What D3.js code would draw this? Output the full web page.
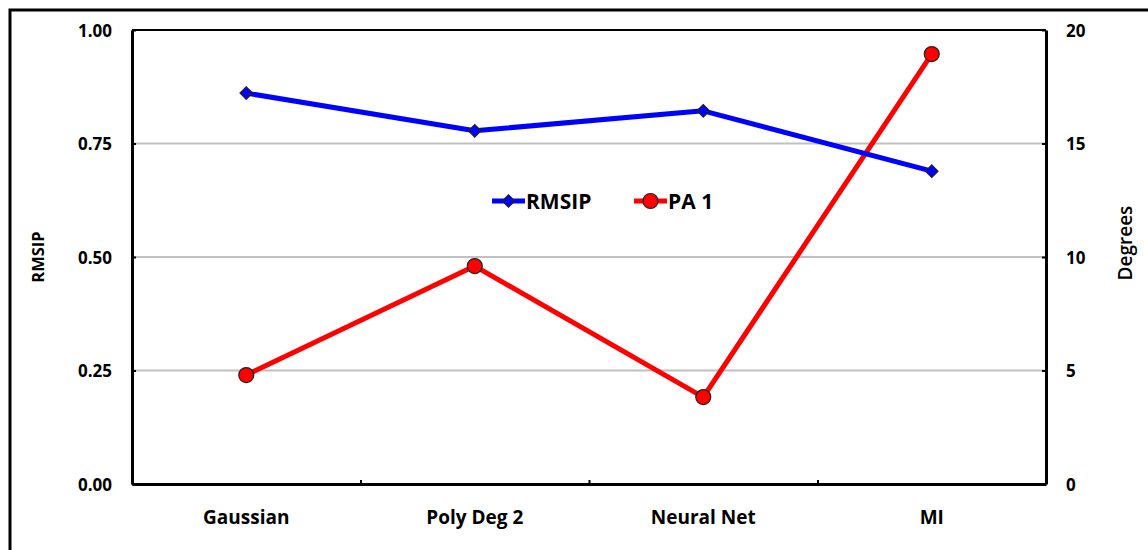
<!DOCTYPE html>
<html>
<head>
<meta charset="utf-8">
<script src="https://cdn.jsdelivr.net/npm/d3@7/dist/d3.min.js"></script>
<style>
  html, body { margin: 0; padding: 0; background: #fff; }
  svg { display: block; font-family: "Open Sans", Lato, "DejaVu Sans", sans-serif; }
</style>
</head>
<body>
<svg id="chart" width="1148" height="550"></svg>
<script>
// Methods compared
const categories = ["Gaussian", "Poly Deg 2", "Neural Net", "MI"];
// RMSIP (left axis)
const rmsip = [0.861, 0.778, 0.822, 0.689];
// Angle of principal axis 1, in degrees (right axis)
const pa1 = [4.80, 9.60, 3.83, 18.94];
// Tick values
const leftTicks = [0, 0.25, 0.5, 0.75, 1.0];
const rightTicks = [0, 5, 10, 15, 20];

const svg = d3.select("#chart");
const plot = { left: 132, right: 1046, top: 30, bottom: 484 };

// Outer frame
svg.append("rect")
  .attr("x", 10).attr("y", 10)
  .attr("width", 1150).attr("height", 560)
  .attr("fill", "none").attr("stroke", "#000").attr("stroke-width", 3);

const x = d3.scaleBand().domain(categories).range([plot.left, plot.right]).padding(0);
const yL = d3.scaleLinear().domain([0, 1]).range([plot.bottom, plot.top]);
const yR = d3.scaleLinear().domain([0, 20]).range([plot.bottom, plot.top]);

// Gridlines
svg.append("g").selectAll("line")
  .data(leftTicks.filter(d => d > 0 && d < 1))
  .join("line")
  .attr("x1", plot.left).attr("x2", plot.right)
  .attr("y1", d => yL(d)).attr("y2", d => yL(d))
  .attr("stroke", "#c0c0c0").attr("stroke-width", 2);

// Top border of plot area
svg.append("line")
  .attr("x1", plot.left).attr("x2", plot.right)
  .attr("y1", plot.top).attr("y2", plot.top)
  .attr("stroke", "#000").attr("stroke-width", 2);

// Left axis
const axL = svg.append("g").attr("transform", `translate(${plot.left},0)`)
  .call(d3.axisLeft(yL).tickValues(leftTicks).tickFormat(d3.format(".2f")).tickSizeInner(-4).tickSizeOuter(0).tickPadding(20));
// Right axis
const axR = svg.append("g").attr("transform", `translate(${plot.right},0)`)
  .call(d3.axisRight(yR).tickValues(rightTicks).tickFormat(d3.format("d")).tickSizeInner(-4).tickSizeOuter(0).tickPadding(20));
// Bottom axis: ticks sit on category boundaries
const bounds = categories.slice(1).map(c => x(c));
const axB = svg.append("g").attr("transform", `translate(0,${plot.bottom})`)
  .call(d3.axisBottom(d3.scaleLinear().domain([plot.left, plot.right]).range([plot.left, plot.right]))
    .tickValues(bounds).tickFormat("").tickSizeInner(-4).tickSizeOuter(0));

[axL, axR, axB].forEach(g => {
  g.select(".domain").attr("stroke", "#000").attr("stroke-width", 3);
  g.selectAll(".tick line").attr("stroke", "#000").attr("stroke-width", 2);
  g.selectAll(".tick text").attr("fill", "#000").attr("font-size", 17).attr("font-weight", "bold")
    .attr("font-family", "'Open Sans', sans-serif");
});
axL.selectAll(".tick text").attr("dy", "0.36em");
axR.selectAll(".tick text").attr("dy", "0.36em");

// Category labels
svg.append("g").selectAll("text")
  .data(categories)
  .join("text")
  .attr("x", d => x(d) + x.bandwidth() / 2)
  .attr("y", 524)
  .attr("text-anchor", "middle")
  .attr("font-size", 19).attr("font-weight", "bold")
  .text(d => d);

// Axis titles
svg.append("text")
  .attr("transform", `translate(44,${(plot.top + plot.bottom) / 2}) rotate(-90)`)
  .attr("text-anchor", "middle")
  .attr("font-size", 16.5).attr("font-weight", "bold")
  .text("RMSIP");
svg.append("text")
  .attr("transform", `translate(1132,243) rotate(-90)`)
  .attr("text-anchor", "middle")
  .attr("font-size", 19).attr("font-weight", 600)
  .text("Degrees");

const cx = d => x(d) + x.bandwidth() / 2;

// PA 1 series
svg.append("path")
  .datum(categories.map((c, i) => [cx(c), yR(pa1[i])]))
  .attr("d", d3.line())
  .attr("fill", "none").attr("stroke", "#ff0000").attr("stroke-width", 5)
  .attr("stroke-linejoin", "round");
svg.append("g").selectAll("circle")
  .data(categories)
  .join("circle")
  .attr("cx", d => cx(d)).attr("cy", (d, i) => yR(pa1[i]))
  .attr("r", 7.5)
  .attr("fill", "#ff0000").attr("stroke", "#222").attr("stroke-width", 1.2);

// RMSIP series
svg.append("path")
  .datum(categories.map((c, i) => [cx(c), yL(rmsip[i])]))
  .attr("d", d3.line())
  .attr("fill", "none").attr("stroke", "#0000ff").attr("stroke-width", 5)
  .attr("stroke-linejoin", "round");
svg.append("g").selectAll("path")
  .data(categories)
  .join("path")
  .attr("transform", (d, i) => `translate(${cx(d)},${yL(rmsip[i])}) rotate(45)`)
  .attr("d", d3.symbol().type(d3.symbolSquare).size(78))
  .attr("fill", "#0000ff").attr("stroke", "#222").attr("stroke-width", 1.2);

// Legend
const legend = svg.append("g");
const items = [
  { name: "RMSIP", color: "#0000ff", x0: 492, kind: "diamond" },
  { name: "PA 1", color: "#ff0000", x0: 634, kind: "circle" }
];
const ly = 201;
items.forEach(it => {
  legend.append("line")
    .attr("x1", it.x0).attr("x2", it.x0 + 33)
    .attr("y1", ly).attr("y2", ly)
    .attr("stroke", it.color).attr("stroke-width", 5);
  if (it.kind === "diamond") {
    legend.append("path")
      .attr("transform", `translate(${it.x0 + 16.5},${ly}) rotate(45)`)
      .attr("d", d3.symbol().type(d3.symbolSquare).size(78))
      .attr("fill", it.color).attr("stroke", "#222").attr("stroke-width", 1.2);
  } else {
    legend.append("circle")
      .attr("cx", it.x0 + 16.5).attr("cy", ly).attr("r", 7.5)
      .attr("fill", it.color).attr("stroke", "#222").attr("stroke-width", 1.2);
  }
  legend.append("text")
    .attr("x", it.x0 + 34).attr("y", ly).attr("dy", "0.36em")
    .attr("font-size", 21).attr("font-weight", "bold")
    .text(it.name);
});
</script>
</body>
</html>
